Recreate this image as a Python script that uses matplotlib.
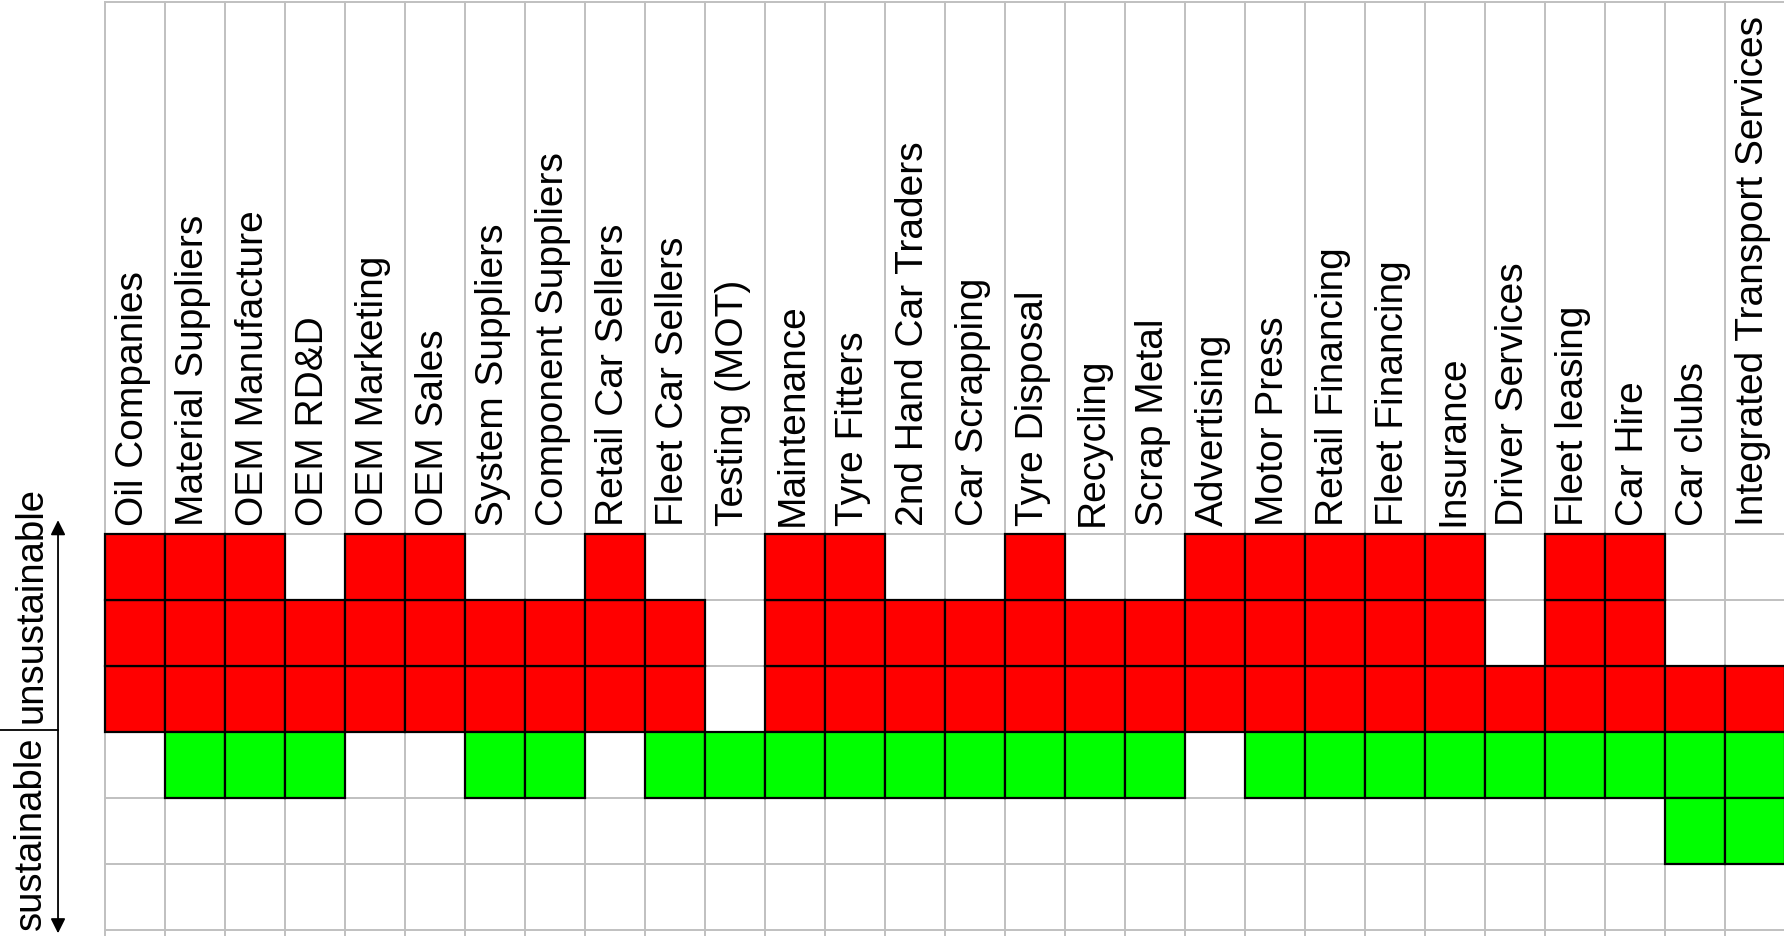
import numpy as np
import matplotlib.pyplot as plt

plt.rcParams['font.family'] = ['Liberation Sans', 'DejaVu Sans']

actors = ["Oil Companies", "Material Suppliers", "OEM Manufacture", "OEM RD&D",
          "OEM Marketing", "OEM Sales", "System Suppliers", "Component Suppliers",
          "Retail Car Sellers", "Fleet Car Sellers", "Testing (MOT)", "Maintenance",
          "Tyre Fitters", "2nd Hand Car Traders", "Car Scrapping", "Tyre Disposal",
          "Recycling", "Scrap Metal", "Advertising", "Motor Press", "Retail Financing",
          "Fleet Financing", "Insurance", "Driver Services", "Fleet leasing",
          "Car Hire", "Car clubs", "Integrated Transport Services"]
# number of unsustainable (red) cells, counted upward from the middle line
unsustainable = [3, 3, 3, 2, 3, 3, 2, 2, 3, 2, 0, 3, 3, 2, 2, 3, 2, 2,
                 3, 3, 3, 3, 3, 1, 3, 3, 1, 1]
# number of sustainable (green) cells, counted downward from the middle line
sustainable = [0, 1, 1, 1, 0, 0, 1, 1, 0, 1, 1, 1, 1, 1, 1, 1, 1, 1,
               0, 1, 1, 1, 1, 1, 1, 1, 2, 2]

n = len(actors)
x = np.arange(n)
red = np.array(unsustainable)
green = np.array(sustainable)

fig = plt.figure(figsize=(17.84, 9.36), dpi=100)
ax = fig.add_axes([0, 0, 1, 1])
ax.set_xlim(-1.75, 27.983)
ax.set_ylim(-0.091, 14.091)
ax.axis('off')

grid = '#c0c0c0'
top = 14.06
# grid lines
for i in range(n + 1):
    ax.plot([i, i], [-0.2, top], color=grid, lw=1.4, zorder=1)
for j in range(7):
    ax.plot([0, n], [j, j], color=grid, lw=1.4, zorder=1)
ax.plot([0, n], [top, top], color=grid, lw=1.4, zorder=1)

# cells
for k in range(3):
    m = red > k
    ax.bar(x[m], 1, bottom=3 + k, width=1, align='edge',
           color='#ff0000', edgecolor='black', linewidth=1.6, zorder=2)
    m = green > k
    ax.bar(x[m], 1, bottom=2 - k, width=1, align='edge',
           color='#00ff00', edgecolor='black', linewidth=1.6, zorder=2)

# column labels
for i, name in enumerate(actors):
    ax.text(i + 0.47, 6.12, name, rotation=90, ha='center', va='bottom',
            fontsize=28, zorder=3)

# left scale
ax.annotate('', xy=(-0.783, 6.21), xytext=(-0.783, -0.05),
            arrowprops=dict(arrowstyle='<|-|>', color='black', lw=1.3,
                            mutation_scale=22, shrinkA=0, shrinkB=0))
ax.plot([-1.75, -0.783], [3.03, 3.03], color='black', lw=1.3)
ax.text(-1.233, 4.92, 'unsustainable', rotation=90, ha='center', va='center',
        fontsize=27.5)
ax.text(-1.233, 1.47, 'sustainable', rotation=90, ha='center', va='center',
        fontsize=27.5)

plt.savefig('out.png', dpi=100)
